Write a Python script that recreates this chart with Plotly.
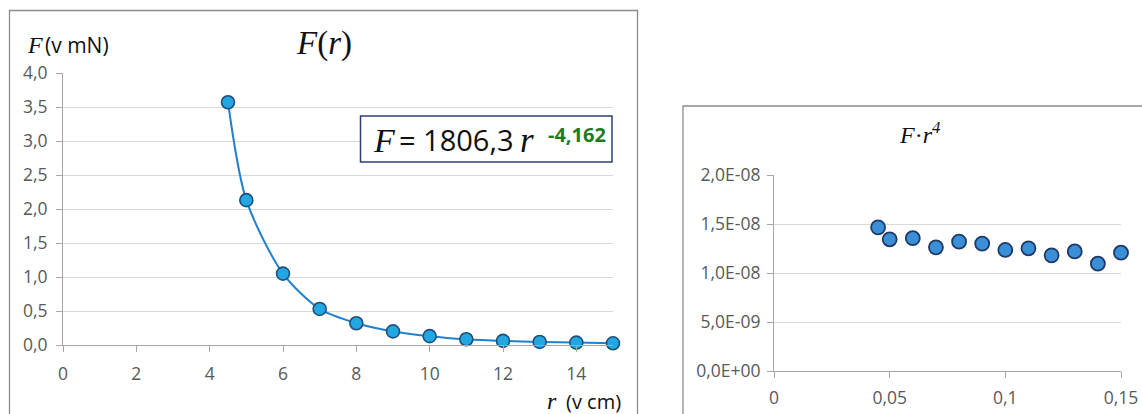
import plotly.graph_objects as go

# ---- data ----
r_cm = [4.5, 5, 6, 7, 8, 9, 10, 11, 12, 13, 14, 15]
F_mN = [3.57, 2.13, 1.05, 0.53, 0.32, 0.20, 0.13, 0.085, 0.06, 0.045, 0.035, 0.025]

r_m = [0.045, 0.05, 0.06, 0.07, 0.08, 0.09, 0.10, 0.11, 0.12, 0.13, 0.14, 0.15]
Fr4 = [1.466e-8, 1.344e-8, 1.355e-8, 1.262e-8, 1.32e-8, 1.30e-8,
       1.235e-8, 1.252e-8, 1.18e-8, 1.22e-8, 1.095e-8, 1.207e-8]

right_y_ticks = [0, 5e-9, 1e-8, 1.5e-8, 2e-8]
right_y_labels = ["0,0E+00", "5,0E-09", "1,0E-08", "1,5E-08", "2,0E-08"]
right_x_ticks = [0, 0.05, 0.1, 0.15]
right_x_labels = ["0", "0,05", "0,1", "0,15"]

W, H = 1142, 414
def px(x):
    return x / W
def py(y):
    return 1 - y / H

SANS = "'Open Sans', Lato, sans-serif"
SERIF = "'Liberation Serif', 'DejaVu Serif', serif"
TICK_FONT = dict(family=SANS, size=17.5, color="#595959")
GRID = "#d9d9d9"
AXIS = "#a6a6a6"

fig = go.Figure()

fig.add_trace(go.Scatter(
    x=r_cm, y=F_mN, mode="lines+markers",
    line=dict(color="#2280cc", width=2, shape="spline", smoothing=0.8),
    marker=dict(size=13, color="#22a7e3", line=dict(color="#1f4e79", width=1.6)),
    xaxis="x", yaxis="y", showlegend=False, cliponaxis=False, hoverinfo="skip",
))

fig.add_trace(go.Scatter(
    x=r_m, y=Fr4, mode="markers",
    marker=dict(size=14, color="#3a8fd6", line=dict(color="#1f3a68", width=1.8)),
    xaxis="x2", yaxis="y2", showlegend=False, cliponaxis=False, hoverinfo="skip",
))

axis_common = dict(
    showline=True, linecolor=AXIS, linewidth=1,
    ticks="outside", ticklen=6, tickcolor=AXIS, tickwidth=1,
    tickfont=TICK_FONT, zeroline=False, fixedrange=True, automargin=False,
)

fig.update_layout(
    template="none",
    width=W, height=H,
    margin=dict(l=0, r=0, t=0, b=0, pad=0, autoexpand=False),
    paper_bgcolor="white", plot_bgcolor="white",
    separators=", ",
    xaxis=dict(domain=[px(63), px(613)], range=[0, 15], dtick=2, tick0=0,
               tickformat="d", anchor="y", showgrid=False,
               ticklabelstandoff=7, **axis_common),
    yaxis=dict(domain=[py(345), py(73)], range=[0, 4], dtick=0.5, tick0=0,
               tickformat=".1f", anchor="x", ticklabelstandoff=5,
               showgrid=True, gridcolor=GRID, gridwidth=1, **axis_common),
    xaxis2=dict(domain=[px(774), px(1121)], range=[0, 0.15],
                tickmode="array", tickvals=right_x_ticks, ticktext=right_x_labels,
                anchor="y2", showgrid=False, ticklabelstandoff=5, **axis_common),
    yaxis2=dict(domain=[py(371), py(175)], range=[0, 2e-8],
                tickmode="array", tickvals=right_y_ticks, ticktext=right_y_labels,
                anchor="x2", ticklabelstandoff=3,
                showgrid=True, gridcolor=GRID, gridwidth=1, **axis_common),
)

# chart frames
fig.add_shape(type="rect", xref="paper", yref="paper",
              x0=px(9.5), x1=px(637.5), y0=py(440), y1=py(10.5),
              line=dict(color="#8c8c8c", width=1.3), layer="below")
fig.add_shape(type="rect", xref="paper", yref="paper",
              x0=px(683), x1=px(1160), y0=py(440), y1=py(106),
              line=dict(color="#8c8c8c", width=1.3), layer="below")

# equation box
fig.add_shape(type="rect", xref="paper", yref="paper",
              x0=px(360.5), x1=px(612), y0=py(162), y1=py(116),
              line=dict(color="#2f3e7a", width=1.5), fillcolor="white", layer="above")

ann = []
ann.append(dict(x=px(324), y=py(43), xref="paper", yref="paper", showarrow=False,
                xanchor="center", yanchor="middle",
                text="<i>F</i>(<i>r</i>)", font=dict(family=SERIF, size=33, color="#111111")))
ann.append(dict(x=px(25), y=py(45), xref="paper", yref="paper", showarrow=False,
                xanchor="left", yanchor="middle",
                text="<i>F</i>", font=dict(family=SERIF, size=24, color="#111111")))
ann.append(dict(x=px(43), y=py(45), xref="paper", yref="paper", showarrow=False,
                xanchor="left", yanchor="middle",
                text="(v mN)", font=dict(family=SANS, size=21, color="#111111")))
ann.append(dict(x=px(559), y=py(401), xref="paper", yref="paper", showarrow=False,
                xanchor="right", yanchor="middle",
                text="<i>r</i>", font=dict(family=SERIF, size=24, color="#111111")))
ann.append(dict(x=px(623), y=py(401), xref="paper", yref="paper", showarrow=False,
                xanchor="right", yanchor="middle",
                text="(v cm)", font=dict(family=SANS, size=20, color="#111111")))
ann.append(dict(x=px(371), y=py(141), xref="paper", yref="paper", showarrow=False,
                xanchor="left", yanchor="middle",
                text="<i>F</i>", font=dict(family=SERIF, size=34, color="#111111")))
ann.append(dict(x=px(397), y=py(140), xref="paper", yref="paper", showarrow=False,
                xanchor="left", yanchor="middle",
                text="= 1806,3", font=dict(family=SANS, size=29, color="#111111")))
ann.append(dict(x=px(518), y=py(141), xref="paper", yref="paper", showarrow=False,
                xanchor="left", yanchor="middle",
                text="<i>r</i>", font=dict(family=SERIF, size=35, color="#111111")))
ann.append(dict(x=px(546), y=py(134), xref="paper", yref="paper", showarrow=False,
                xanchor="left", yanchor="middle",
                text="<b>-4,162</b>", font=dict(family=SANS, size=20, color="#1e7b1e")))
ann.append(dict(x=px(920), y=py(133), xref="paper", yref="paper", showarrow=False,
                xanchor="center", yanchor="middle",
                text="<i>F</i>·<i>r</i><sup><i>4</i></sup>",
                font=dict(family=SERIF, size=24, color="#111111")))

fig.update_layout(annotations=ann)

fig.write_html("out.html",
               config={"displayModeBar": False, "responsive": False},
               post_script="document.body.style.margin='0';document.body.style.overflow='hidden';")
